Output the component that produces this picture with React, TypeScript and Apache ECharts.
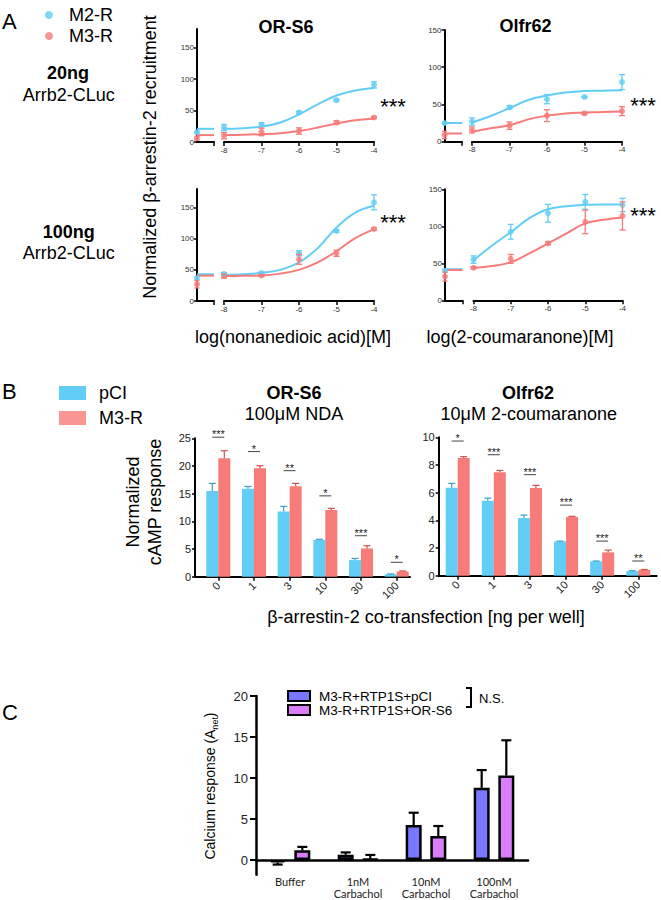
import React, { useEffect, useRef } from "react";
import * as echarts from "echarts";

const FONT = "Liberation Sans, Arial, sans-serif";
const BLUE = "#62cdf6";
const RED = "#f77b78";
const BLUE_ERR = "#3f9fc8";
const RED_ERR = "#cf514e";
const C_BLUE = "#7878ff";
const C_PURPLE = "#d97df8";

// ---------------- Panel A data ----------------
const doseLog = [-8, -7, -6, -5, -4];
const fitLog = [-8, -7.5, -7, -6.5, -6, -5.5, -5, -4.5, -4];
const aYTicks = [0, 50, 100, 150];

// OR-S6, 20 ng
const s6_20_m2_ctrl = [15.5, 2];
const s6_20_m2_base = 21;
const s6_20_m2_mean = [23, 27.6, 47, 66.5, 91];
const s6_20_m2_err = [5, 3, 2, 1.5, 5];
const s6_20_m2_fit = [21, 22, 24.5, 31, 44, 60, 74, 82, 86];
const s6_20_m3_ctrl = [6, 3];
const s6_20_m3_base = 11;
const s6_20_m3_mean = [10, 16, 17.5, 31, 39];
const s6_20_m3_err = [5, 6, 5, 3, 1.5];
const s6_20_m3_fit = [11, 11.5, 12.5, 14, 17.5, 23, 29.5, 34.5, 37];

// Olfr62, 20 ng
const o62_20_m2_ctrl = [25, 1];
const o62_20_m2_base = 25;
const o62_20_m2_mean = [27, 46, 57, 60, 80];
const o62_20_m2_err = [5, 2, 6, 1, 10];
const o62_20_m2_fit = [25.5, 34.5, 45, 56, 62, 66, 68, 68.5, 69];
const o62_20_m3_ctrl = [9, 5];
const o62_20_m3_base = 11;
const o62_20_m3_mean = [15.7, 21.5, 35, 38, 41];
const o62_20_m3_err = [4, 5, 8, 1.5, 6];
const o62_20_m3_fit = [13.4, 18, 22, 30, 35, 38, 39, 40, 40.5];

// OR-S6, 100 ng
const s6_100_m2_ctrl = [36.5, 3];
const s6_100_m2_base = 43;
const s6_100_m2_mean = [43.5, 45, 76.7, 112.5, 158.6];
const s6_100_m2_err = [2, 1.5, 4, 2, 12];
const s6_100_m2_fit = [42, 43, 45, 50, 62, 85, 118, 142, 153];
const s6_100_m3_ctrl = [27, 6];
const s6_100_m3_base = 40.7;
const s6_100_m3_mean = [40, 41, 67, 76.7, 115.7];
const s6_100_m3_err = [3, 1.5, 8, 5, 2];
const s6_100_m3_fit = [40, 40.5, 41, 44, 50, 62, 80, 101, 115];

// Olfr62, 100 ng
const o62_100_m2_ctrl = [40, 2];
const o62_100_m2_base = 42;
const o62_100_m2_mean = [55, 92.6, 117.6, 133, 128.8];
const o62_100_m2_err = [5, 10, 12, 10, 9];
const o62_100_m2_fit = [54, 74, 92, 111, 123, 127, 129, 129.5, 129.5];
const o62_100_m3_ctrl = [32, 6];
const o62_100_m3_base = 41;
const o62_100_m3_mean = [44, 56, 77, 106, 114];
const o62_100_m3_err = [1.5, 6, 2, 16, 19];
const o62_100_m3_fit = [44, 46.4, 51.4, 63.5, 77, 90.5, 104, 109, 112];

// ---------------- Panel B data ----------------
const bCats = ["0", "1", "3", "10", "30", "100"];
const bIdx = [0, 1, 2, 3, 4, 5];
const s6_pci = [15.5, 15.9, 11.8, 6.65, 3.0, 0.45];
const s6_pci_err = [1.35, 0.4, 0.9, 0.1, 0.3, 0.05];
const s6_m3 = [21.4, 19.6, 16.35, 12.05, 5.1, 0.95];
const s6_m3_err = [1.35, 0.45, 0.5, 0.3, 0.5, 0.08];
const s6_sig = [25.2, 22.6, 19.15, 14.6, 7.4, 2.6];
const s6_stars = ["***", "*", "**", "*", "***", "*"];
const o62_pci = [6.36, 5.42, 4.17, 2.48, 1.04, 0.33];
const o62_pci_err = [0.31, 0.18, 0.21, 0.02, 0.02, 0.03];
const o62_m3 = [8.5, 7.47, 6.34, 4.24, 1.69, 0.42];
const o62_m3_err = [0.1, 0.13, 0.19, 0.05, 0.16, 0.03];
const o62_sig = [9.73, 8.74, 7.3, 5.1, 2.5, 1.06];
const o62_stars = ["*", "***", "***", "***", "***", "**"];

// ---------------- Panel C data ----------------
const cCats = ["Buffer", "1nM\nCarbachol", "10nM\nCarbachol", "100nM\nCarbachol"];
const cTicks = [0, 5, 10, 15, 20];
const c_pci = [-0.3, 0.65, 4.27, 8.8];
const c_pci_err = [0.25, 0.28, 1.5, 2.17];
const c_ors6 = [1.2, 0.12, 2.93, 10.3];
const c_ors6_err = [0.4, 0.5, 1.22, 4.3];

// ---------------- builders ----------------
const grids: any[] = [];
const xAxes: any[] = [];
const yAxes: any[] = [];
const series: any[] = [];

const line = (w: number) => ({ show: true, onZero: false, lineStyle: { color: "#000", width: w } });
const tick = (len: number, w: number, extra: any = {}) => ({ show: true, length: len, lineStyle: { color: "#000", width: w }, ...extra });

function addGrid(g: any, xa: any, ya: any) {
  const i = grids.length;
  grids.push({ ...g, outerBoundsMode: "none" });
  xAxes.push({ ...xa, gridIndex: i });
  yAxes.push({ ...ya, gridIndex: i });
  return i;
}

function errA(gi: number, xs: number[], means: number[], errs: number[], color: string, cap: number) {
  return {
    type: "custom", xAxisIndex: gi, yAxisIndex: gi, z: 4, silent: true,
    data: xs.map((x, i) => [x, means[i] - errs[i], means[i] + errs[i]]),
    encode: { x: 0, y: [1, 2] },
    renderItem: (params: any, api: any) => {
      const lo = api.coord([api.value(0), api.value(1)]);
      const hi = api.coord([api.value(0), api.value(2)]);
      const st = { stroke: color, lineWidth: 1.3 };
      return {
        type: "group", children: [
          { type: "line", shape: { x1: lo[0], y1: lo[1], x2: hi[0], y2: hi[1] }, style: st },
          { type: "line", shape: { x1: lo[0] - cap, y1: lo[1], x2: lo[0] + cap, y2: lo[1] }, style: st },
          { type: "line", shape: { x1: hi[0] - cap, y1: hi[1], x2: hi[0] + cap, y2: hi[1] }, style: st },
        ],
      };
    },
  };
}

function buildA(geo: any, yMax: number, groups: any[]) {
  const yAx = {
    type: "value", min: 0, max: yMax,
    axisLine: line(2), axisTick: tick(3, 1.5, { customValues: aYTicks }),
    axisLabel: { customValues: aYTicks, fontSize: 8, color: "#333", margin: 3, fontFamily: FONT },
    splitLine: { show: false },
  };
  const li = addGrid(
    { left: geo.yLeft, top: geo.top, width: geo.segW, height: geo.h },
    { type: "value", min: 0, max: 1, axisLine: line(2), axisTick: tick(4, 1.5, { customValues: [1] }), axisLabel: { show: false }, splitLine: { show: false } },
    yAx
  );
  const mi = addGrid(
    { left: geo.mainL, top: geo.top, width: geo.mainW, height: geo.h },
    { type: "value", min: -8, max: -4, interval: 1, axisLine: line(2), axisTick: tick(4, 1.5), axisLabel: { fontSize: 8, color: "#333", margin: 4, fontFamily: FONT }, splitLine: { show: false } },
    { type: "value", min: 0, max: yMax, show: false }
  );
  for (const g of groups) {
    series.push({ type: "line", xAxisIndex: li, yAxisIndex: li, data: [[0, g.base], [1, g.base]], symbol: "none", lineStyle: { color: g.color, width: 2 }, silent: true, z: 2 });
    series.push(errA(li, [0], [g.ctrl[0]], [g.ctrl[1]], g.color, 2.5));
    series.push({ type: "scatter", name: g.name, xAxisIndex: li, yAxisIndex: li, data: [[0, g.ctrl[0]]], symbolSize: 6, itemStyle: { color: g.color }, z: 3 });
    series.push({ type: "line", xAxisIndex: mi, yAxisIndex: mi, data: fitLog.map((x, i) => [x, g.fit[i]]), smooth: 0.4, symbol: "none", lineStyle: { color: g.color, width: 2 }, silent: true, z: 2 });
    series.push(errA(mi, doseLog, g.mean, g.err, g.color, 3));
    series.push({ type: "scatter", name: g.name, xAxisIndex: mi, yAxisIndex: mi, data: doseLog.map((x, i) => [x, g.mean[i]]), symbolSize: 6, itemStyle: { color: g.color }, z: 3 });
  }
}

function barErr(gi: number, vals: number[], errs: number[], offset: number, color: string, cap: number, lw: number) {
  return {
    type: "custom", xAxisIndex: gi, yAxisIndex: gi, z: 5, silent: true,
    data: vals.map((v, i) => [i, v, v >= 0 ? v + errs[i] : v - errs[i]]),
    encode: { x: 0, y: [1, 2] },
    renderItem: (params: any, api: any) => {
      const a = api.coord([api.value(0), api.value(1)]);
      const b = api.coord([api.value(0), api.value(2)]);
      const x = a[0] + offset;
      const st = { stroke: color, lineWidth: lw };
      return {
        type: "group", children: [
          { type: "line", shape: { x1: x, y1: a[1], x2: x, y2: b[1] }, style: st },
          { type: "line", shape: { x1: x - cap, y1: b[1], x2: x + cap, y2: b[1] }, style: st },
        ],
      };
    },
  };
}

function sigSeries(gi: number, lines: number[], stars: string[]) {
  return {
    type: "custom", xAxisIndex: gi, yAxisIndex: gi, z: 5, silent: true,
    data: lines.map((v, i) => [i, v]),
    encode: { x: 0, y: 1 },
    renderItem: (params: any, api: any) => {
      const p = api.coord([api.value(0), api.value(1)]);
      return {
        type: "group", children: [
          { type: "line", shape: { x1: p[0] - 6, y1: p[1], x2: p[0] + 6, y2: p[1] }, style: { stroke: "#444", lineWidth: 1 } },
          { type: "text", style: { text: stars[params.dataIndex], x: p[0], y: p[1] - 3, align: "center", verticalAlign: "middle", fontSize: 11, fontFamily: FONT, fill: "#222" } },
        ],
      };
    },
  };
}

const B_BAR_W = 12;

function buildB(geo: any, yMax: number, yInt: number, xMin: number, xMax: number, pci: number[], pciErr: number[], m3: number[], m3Err: number[], sig: number[], stars: string[]) {
  const gi = addGrid(
    { left: geo.left, top: geo.top, width: geo.width, height: geo.height },
    {
      type: "value", min: xMin, max: xMax, axisLine: line(2),
      axisTick: tick(4, 1.5, { customValues: bIdx }),
      axisLabel: { customValues: bIdx, formatter: (v: number) => bCats[Math.round(v)], rotate: 45, fontSize: 11, color: "#222", margin: 7, fontFamily: FONT },
      splitLine: { show: false },
    },
    {
      type: "value", min: 0, max: yMax, interval: yInt, axisLine: line(2), axisTick: tick(3, 1.5),
      axisLabel: { fontSize: 11, color: "#222", margin: 4, fontFamily: FONT }, splitLine: { show: false },
    }
  );
  series.push({ type: "bar", name: "pCI", xAxisIndex: gi, yAxisIndex: gi, data: bIdx.map((i) => [i, pci[i]]), barWidth: B_BAR_W, barGap: "0%", itemStyle: { color: BLUE }, z: 2 });
  series.push({ type: "bar", name: "M3-R", xAxisIndex: gi, yAxisIndex: gi, data: bIdx.map((i) => [i, m3[i]]), barWidth: B_BAR_W, barGap: "0%", itemStyle: { color: RED }, z: 2 });
  series.push(barErr(gi, pci, pciErr, -B_BAR_W / 2, BLUE_ERR, 3.5, 1.2));
  series.push(barErr(gi, m3, m3Err, B_BAR_W / 2, RED_ERR, 3.5, 1.2));
  series.push(sigSeries(gi, sig, stars));
}

const C_BAR_W = 16;
const C_GAP = 0.54;

function buildC() {
  const gi = addGrid(
    { left: 256, top: 696, width: 272, height: 178.8 },
    {
      type: "category", data: cCats, axisLine: { show: true, onZero: true, lineStyle: { color: "#000", width: 2.5 } },
      axisTick: { show: false },
      axisLabel: { fontSize: 11, color: "#222", margin: 0, lineHeight: 12.5, fontFamily: "Lato, Liberation Sans, sans-serif" },
    },
    {
      type: "value", min: -1.8, max: 20, axisLine: line(2.5),
      axisTick: tick(6, 2, { customValues: cTicks }),
      axisLabel: { customValues: cTicks, fontSize: 13, color: "#222", margin: 8, fontFamily: FONT },
      splitLine: { show: false },
    }
  );
  const off = (C_BAR_W * (1 + C_GAP)) / 2;
  series.push({ type: "bar", name: "M3-R+RTP1S+pCI", xAxisIndex: gi, yAxisIndex: gi, data: c_pci, barWidth: C_BAR_W, barGap: C_GAP * 100 + "%", itemStyle: { color: C_BLUE, borderColor: "#000", borderWidth: 2.5 }, z: 2 });
  series.push({ type: "bar", name: "M3-R+RTP1S+OR-S6", xAxisIndex: gi, yAxisIndex: gi, data: c_ors6, barWidth: C_BAR_W, barGap: C_GAP * 100 + "%", itemStyle: { color: C_PURPLE, borderColor: "#000", borderWidth: 2.5 }, z: 2 });
  series.push(barErr(gi, c_pci, c_pci_err, -off, "#000", 5, 2.2));
  series.push(barErr(gi, c_ors6, c_ors6_err, off, "#000", 5, 2.2));
}

function grp(name: string, color: string, ctrl: number[], base: number, mean: number[], err: number[], fit: number[]) {
  return { name, color, ctrl, base, mean, err, fit };
}

function buildOption() {
  grids.length = 0; xAxes.length = 0; yAxes.length = 0; series.length = 0;
  buildA({ yLeft: 197, top: 29, h: 113, segW: 17, mainL: 224, mainW: 150 }, 180, [
    grp("M2-R", BLUE, s6_20_m2_ctrl, s6_20_m2_base, s6_20_m2_mean, s6_20_m2_err, s6_20_m2_fit),
    grp("M3-R", RED, s6_20_m3_ctrl, s6_20_m3_base, s6_20_m3_mean, s6_20_m3_err, s6_20_m3_fit),
  ]);
  buildA({ yLeft: 444.5, top: 30, h: 111.7, segW: 17.5, mainL: 472, mainW: 150 }, 150, [
    grp("M2-R", BLUE, o62_20_m2_ctrl, o62_20_m2_base, o62_20_m2_mean, o62_20_m2_err, o62_20_m2_fit),
    grp("M3-R", RED, o62_20_m3_ctrl, o62_20_m3_base, o62_20_m3_mean, o62_20_m3_err, o62_20_m3_fit),
  ]);
  buildA({ yLeft: 197, top: 189, h: 112, segW: 17, mainL: 224, mainW: 150 }, 180, [
    grp("M2-R", BLUE, s6_100_m2_ctrl, s6_100_m2_base, s6_100_m2_mean, s6_100_m2_err, s6_100_m2_fit),
    grp("M3-R", RED, s6_100_m3_ctrl, s6_100_m3_base, s6_100_m3_mean, s6_100_m3_err, s6_100_m3_fit),
  ]);
  buildA({ yLeft: 445, top: 189.3, h: 111, segW: 17.5, mainL: 473.5, mainW: 149 }, 150, [
    grp("M2-R", BLUE, o62_100_m2_ctrl, o62_100_m2_base, o62_100_m2_mean, o62_100_m2_err, o62_100_m2_fit),
    grp("M3-R", RED, o62_100_m3_ctrl, o62_100_m3_base, o62_100_m3_mean, o62_100_m3_err, o62_100_m3_fit),
  ]);
  buildB({ left: 195, top: 438.3, width: 215, height: 138.4 }, 25, 5, -0.653, 5.373, s6_pci, s6_pci_err, s6_m3, s6_m3_err, s6_sig, s6_stars);
  buildB({ left: 438.7, top: 437.3, width: 218, height: 138.4 }, 10, 2, -0.526, 5.51, o62_pci, o62_pci_err, o62_m3, o62_m3_err, o62_sig, o62_stars);
  buildC();

  const T = (text: string, x: number, y: number, fs: number, opts: any = {}) => ({
    type: "text", x, y, rotation: opts.rotation || 0, silent: true,
    style: {
      text, fontSize: fs, fontFamily: opts.fontFamily || FONT, fontWeight: opts.bold ? "bold" : "normal",
      fill: "#000", align: opts.align || "center", verticalAlign: "middle", lineHeight: opts.lineHeight,
    },
  });

  const graphic: any[] = [
    T("A", 2, 21, 22, { align: "left" }),
    T("20ng", 68, 73, 18, { bold: true }),
    T("Arrb2-CLuc", 68.7, 95, 18),
    T("100ng", 68.8, 231.7, 18, { bold: true }),
    T("Arrb2-CLuc", 68.7, 253.3, 18),
    T("Normalized β-arrestin-2 recruitment", 150, 157, 18, { rotation: Math.PI / 2 }),
    T("OR-S6", 286, 26.7, 18, { bold: true }),
    T("Olfr62", 525.5, 25.7, 18, { bold: true }),
    T("log(nonanedioic acid)[M]", 293, 337.3, 18),
    T("log(2-coumaranone)[M]", 520, 337.3, 18),
    T("***", 393, 106, 22),
    T("***", 643, 105, 22),
    T("***", 393, 222, 22),
    T("***", 643, 215, 22),
    T("B", 2, 391, 22, { align: "left" }),
    T("OR-S6", 294, 393.3, 18, { bold: true }),
    T("100μM NDA", 294, 414.3, 18),
    T("Olfr62", 528, 393.3, 18, { bold: true }),
    T("10μM 2-coumaranone", 528.8, 414.3, 18),
    T("Normalized\ncAMP response", 143.5, 502, 18, { rotation: Math.PI / 2, lineHeight: 22 }),
    T("β-arrestin-2 co-transfection [ng per well]", 426, 617.3, 18),
    T("C", 2, 712, 22, { align: "left" }),
    {
      type: "text", x: 211, y: 786, rotation: Math.PI / 2, silent: true,
      style: {
        text: "{a|Calcium response (A}{s|net}{a|)}", align: "center", verticalAlign: "middle",
        rich: {
          a: { fontSize: 14, fontFamily: FONT, fill: "#000", verticalAlign: "top", lineHeight: 16 },
          s: { fontSize: 9, fontFamily: FONT, fill: "#000", verticalAlign: "top", lineHeight: 12, padding: [7, 0, 0, 0] },
        },
      },
    },
    { type: "polyline", silent: true, shape: { points: [[466, 688], [471, 688], [471, 707], [466, 707]] }, style: { stroke: "#000", lineWidth: 2, fill: null } },
    T("N.S.", 479, 698, 13, { align: "left" }),
  ];

  return {
    animation: false,
    backgroundColor: "#fff",
    textStyle: { fontFamily: FONT },
    grid: grids,
    xAxis: xAxes,
    yAxis: yAxes,
    series,
    legend: [
      {
        orient: "vertical", left: 40, top: 0, itemWidth: 30, itemHeight: 8, itemGap: 1, selectedMode: false,
        data: [{ name: "M2-R", icon: "circle" }, { name: "M3-R", icon: "circle" }],
        textStyle: { fontSize: 18, lineHeight: 20, color: "#000", fontFamily: FONT },
      },
      {
        orient: "vertical", left: 54, top: 378, itemWidth: 27, itemHeight: 14, itemGap: 5, selectedMode: false, symbolKeepAspect: false,
        data: [{ name: "pCI", icon: "rect" }, { name: "M3-R", icon: "rect" }],
        textStyle: { fontSize: 18, lineHeight: 20, color: "#000", fontFamily: FONT, padding: [0, 0, 0, 8] },
      },
      {
        orient: "vertical", left: 282, top: 684, itemWidth: 22, itemHeight: 10, itemGap: 0, selectedMode: false, symbolKeepAspect: false,
        data: [{ name: "M3-R+RTP1S+pCI", icon: "rect" }, { name: "M3-R+RTP1S+OR-S6", icon: "rect" }],
        textStyle: { fontSize: 13.5, lineHeight: 13.5, color: "#000", fontFamily: FONT, padding: [0, 0, 0, 4] },
      },
    ],
    graphic,
  };
}

export default function App() {
  const ref = useRef<HTMLDivElement>(null);
  useEffect(() => {
    const chart = echarts.init(ref.current!, null, { renderer: "svg" });
    chart.setOption(buildOption() as any);
    return () => chart.dispose();
  }, []);
  return <div ref={ref} style={{ position: "absolute", left: 0, top: 0, width: 661, height: 900, background: "#fff" }} />;
}
